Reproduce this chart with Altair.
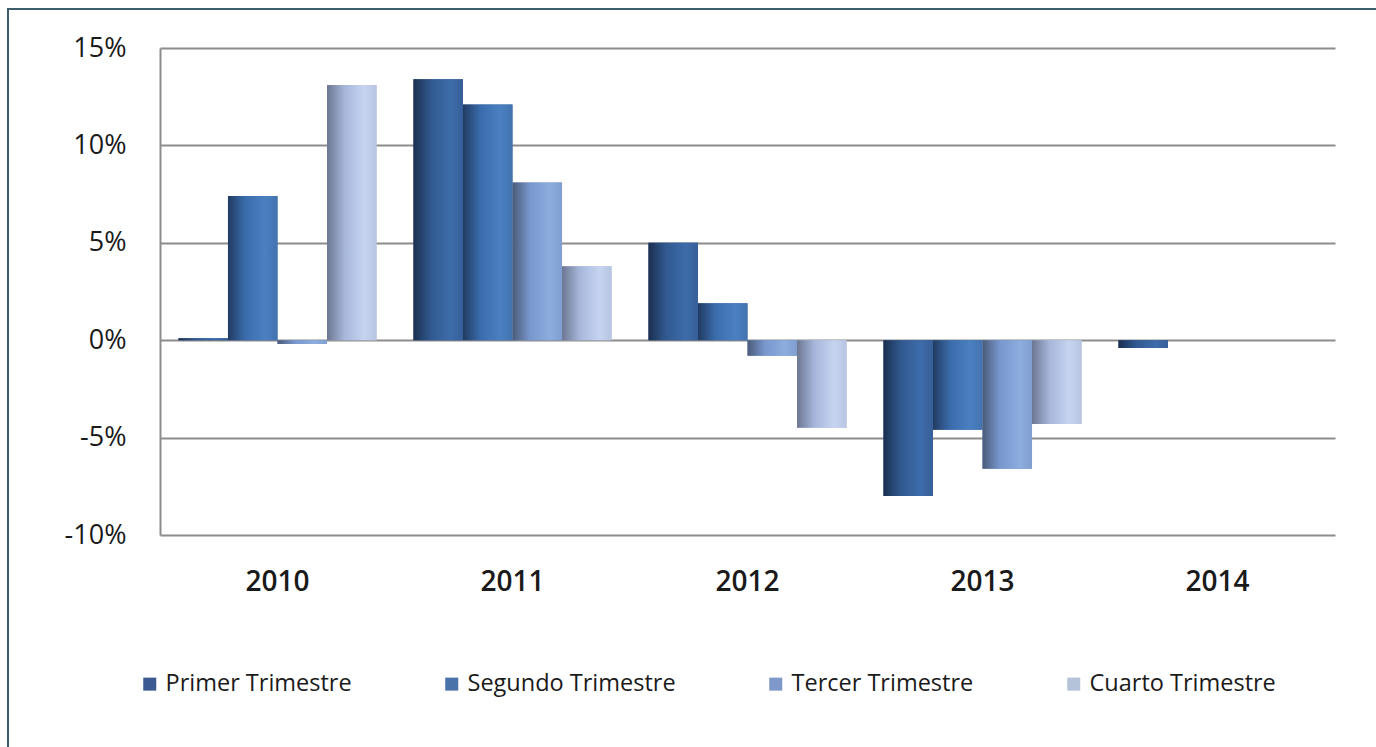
import altair as alt
import pandas as pd

# Quarterly variation (%) by year
years = ["2010", "2011", "2012", "2013", "2014"]
quarters = ["Primer Trimestre", "Segundo Trimestre", "Tercer Trimestre", "Cuarto Trimestre"]
q1 = [0.1, 13.4, 5.0, -8.0, -0.4]
q2 = [7.4, 12.1, 1.9, -4.6, None]
q3 = [-0.2, 8.1, -0.8, -6.6, None]
q4 = [13.1, 3.8, -4.5, -4.3, None]

legend_colors = ["#3b5a92", "#4a73a9", "#7e98c9", "#b4c3d9"]
gradient_stops = [
    ["#1b2f4f", "#30598f", "#3d6cab", "#375f98"],
    ["#213b62", "#3a6cab", "#4a80c1", "#4373b0"],
    ["#4b5b7a", "#7897cd", "#8cadde", "#809fd0"],
    ["#6b7691", "#a6b6da", "#c6d4f1", "#b7c5e3"],
]

rows = []
for quarter, series in zip(quarters, [q1, q2, q3, q4]):
    for year, v in zip(years, series):
        if v is not None:
            rows.append({"year": year, "quarter": quarter, "value": v})
df = pd.DataFrame(rows)

FONT = "Open Sans"

x_enc = alt.X(
    "year:N",
    sort=years,
    scale=alt.Scale(paddingInner=0.157, paddingOuter=0.0785),
    axis=alt.Axis(
        title=None, labelAngle=0, domain=False, ticks=False,
        labelFontSize=28, labelFontWeight=600, labelFont=FONT,
        labelColor="#1a1a1a", labelPadding=33,
    ),
)
y_enc = alt.Y(
    "value:Q",
    scale=alt.Scale(domain=[-10, 15], nice=False),
    axis=alt.Axis(
        title=None, values=[-10, -5, 0, 5, 10, 15],
        labelExpr="datum.value + '%'",
        grid=True, gridColor="#8c8c8c", gridWidth=2,
        domain=True, domainColor="#8c8c8c", domainWidth=2,
        ticks=False, labelFontSize=27, labelFont=FONT,
        labelColor="#1a1a1a", labelPadding=34,
    ),
)
xoff = alt.XOffset("quarter:N", sort=quarters, scale=alt.Scale(domain=quarters))

# Solid bars carry the legend
base = alt.Chart(df).mark_bar().encode(
    x=x_enc,
    y=y_enc,
    xOffset=xoff,
    color=alt.Color(
        "quarter:N",
        sort=quarters,
        scale=alt.Scale(domain=quarters, range=legend_colors),
        legend=alt.Legend(
            title=None, orient="none", direction="horizontal",
            legendX=-22, legendY=624, columnPadding=88,
            symbolType="square", symbolSize=169, symbolStrokeWidth=0,
            labelFontSize=23.5, labelFont=FONT, labelColor="#1a1a1a",
            labelLimit=400, labelOffset=4,
        ),
    ),
)

# Shaded bars drawn over the solid ones, one layer per quarter
layers = [base]
for quarter, stops in zip(quarters, gradient_stops):
    grad = alt.LinearGradient(
        gradient="linear", x1=0, x2=1, y1=0, y2=0,
        stops=[
            alt.GradientStop(offset=0, color=stops[0]),
            alt.GradientStop(offset=0.35, color=stops[1]),
            alt.GradientStop(offset=0.75, color=stops[2]),
            alt.GradientStop(offset=1, color=stops[3]),
        ],
    )
    layers.append(
        alt.Chart(df)
        .transform_filter(alt.datum.quarter == quarter)
        .mark_bar(color=grad)
        .encode(x=x_enc, y=y_enc, xOffset=xoff)
    )

# Outer frame around the whole figure
frame = alt.Chart(pd.DataFrame({"k": [0]})).mark_rect(
    filled=False, stroke="#3e5d6c", strokeWidth=2
).encode(
    x=alt.value(-152), x2=alt.value(1260),
    y=alt.value(-39), y2=alt.value(740),
)

chart = (
    alt.layer(*layers, frame)
    .properties(
        width=1175, height=487,
        autosize=alt.AutoSizeParams(type="none"),
        padding={"left": 160, "top": 48, "right": 41, "bottom": 212},
        background="white",
    )
    .configure_view(stroke=None)
)

chart.save("out.html", embed_options={"renderer": "svg", "actions": False})
